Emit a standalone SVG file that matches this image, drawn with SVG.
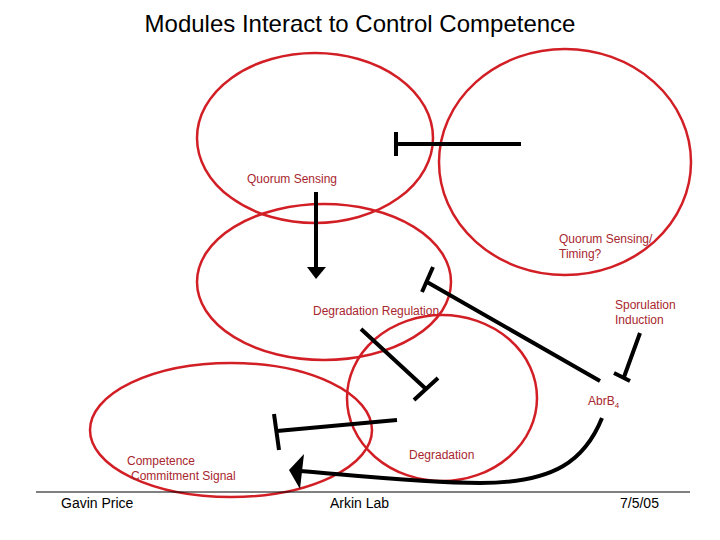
<svg xmlns="http://www.w3.org/2000/svg" width="720" height="540" viewBox="0 0 720 540">
<style>
.mod{fill:none;stroke:#d21f26;stroke-width:2.5}
.lbl{font-family:"Liberation Sans",Arial,sans-serif;font-size:12px;fill:#a8262e}
.ft{font-family:"Liberation Sans",Arial,sans-serif;font-size:14px;fill:#000}
.c{fill:none;stroke:#000;stroke-width:4}
</style>
<rect width="720" height="540" fill="#fff"/>
<text x="360" y="32" text-anchor="middle" font-family="Liberation Sans,Arial,sans-serif" font-size="24" fill="#000">Modules Interact to Control Competence</text>
<g id="quorum"><ellipse class="mod" cx="315" cy="138" rx="118" ry="85"/><text class="lbl" x="247" y="183">Quorum Sensing</text></g>
<g id="timing"><ellipse class="mod" cx="565" cy="162" rx="126" ry="113"/><text class="lbl" x="559" y="243">Quorum Sensing/</text><text class="lbl" x="559" y="258">Timing?</text></g>
<g id="degreg"><ellipse class="mod" cx="324" cy="282" rx="127" ry="78"/><text class="lbl" x="313" y="315">Degradation Regulation</text></g>
<g id="degradation"><ellipse class="mod" cx="442" cy="398" rx="95" ry="83"/><text class="lbl" x="409" y="459">Degradation</text></g>
<g id="competence"><ellipse class="mod" cx="231" cy="430" rx="141" ry="67"/><text class="lbl" x="127" y="465">Competence</text><text class="lbl" x="131" y="480">Commitment Signal</text></g>
<g id="sporulation"><text class="lbl" x="615" y="309">Sporulation</text><text class="lbl" x="615" y="324">Induction</text></g>
<g id="abrb"><text class="lbl" x="588" y="405">AbrB<tspan font-size="8" dy="3">4</tspan></text></g>
<g id="connectors">
<path class="c" d="M521,144 H397 M396,132 V156"/>
<path class="c" d="M316,192 V268"/>
<polygon points="307,267 326,267 316,279" fill="#000"/>
<path class="c" d="M600,381 L427,282 M433,267 L422,292"/>
<path class="c" d="M640,333 L624,377 M614,373 L630,381"/>
<path class="c" d="M361,329 L426,389 M414,400 L438,378"/>
<path class="c" d="M397,420 L277,431 M274,414 L279,450"/>
<path class="c" d="M602,418 C585,460 555,483 480,483 C420,483 350,475 300,471"/>
<polygon points="289,470 304,454 300,489" fill="#000"/>
</g>
<line x1="36" y1="492" x2="690" y2="492" stroke="#000" stroke-width="1"/>
<text class="ft" x="61" y="508">Gavin Price</text>
<text class="ft" x="330" y="508">Arkin Lab</text>
<text class="ft" x="620" y="508">7/5/05</text>
</svg>
